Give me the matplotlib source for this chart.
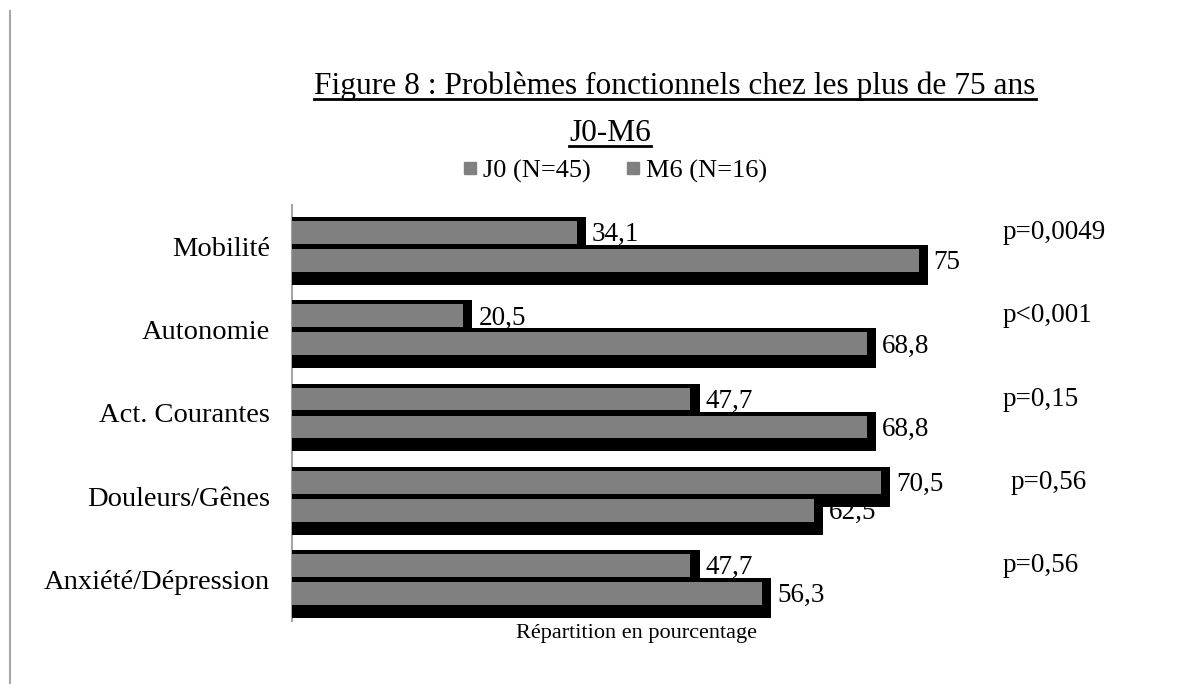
import matplotlib
matplotlib.use("Agg")
import matplotlib.pyplot as plt
from matplotlib.lines import Line2D
import numpy as np

categories = ["Mobilité", "Autonomie", "Act. Courantes", "Douleurs/Gênes", "Anxiété/Dépression"]
j0_values = [34.1, 20.5, 47.7, 70.5, 47.7]
m6_values = [75, 68.8, 68.8, 62.5, 56.3]
p_labels = ["p=0,0049", "p<0,001", "p=0,15", "p=0,56", "p=0,56"]
series_names = ["J0 (N=45)", "M6 (N=16)"]

plt.rcParams['font.family'] = ['Liberation Serif', 'DejaVu Serif']

W, H = 1197, 684
fig = plt.figure(figsize=(W / 100, H / 100), dpi=100)
ax = fig.add_axes([292 / W, 1 - 621 / H, 690 / W, 416 / H])

y = np.arange(len(categories))
off = 0.168      # ecart des deux series autour de la categorie
h = 0.275        # hauteur de la barre grise
sh_h = 0.479     # hauteur de l'ombre noire
sh_dy = 0.054
sh_dx = 1.1

for vals, d in ((j0_values, -off), (m6_values, off)):
    ax.barh(y + d + sh_dy, [v + sh_dx for v in vals], height=sh_h, color='black', zorder=3)
    ax.barh(y + d, vals, height=h, color='#808080', zorder=3)
    for yi, v in zip(y, vals):
        ax.text(v + sh_dx + 0.7, yi + d + sh_dy * 0.5, f"{v:g}".replace('.', ','),
                va='center', ha='left', fontsize=19.5, zorder=2)

for i, (yi, p) in enumerate(zip(y, p_labels)):
    px = 86.0 if i == 3 else 85.1
    ax.text(px, yi - off, p, va='center', ha='left', fontsize=19.5, clip_on=False)

ax.set_xlim(0, 82.6)
ax.set_ylim(len(categories) - 0.5, -0.5)
ax.set_yticks(y)
ax.set_yticklabels(categories, fontsize=20.5)
ax.tick_params(axis='y', length=0, pad=16)
ax.set_xticks([])
for s in ('top', 'right', 'bottom'):
    ax.spines[s].set_visible(False)
ax.spines['left'].set_color('#a6a6a6')
ax.spines['left'].set_linewidth(1.5)
ax.set_xlabel("Répartition en pourcentage", fontsize=16, labelpad=2)

handles = [Line2D([], [], marker='s', linestyle='none', color='#808080', markersize=8)
           for _ in series_names]
fig.legend(handles, series_names, loc='center', bbox_to_anchor=(613 / W, 1 - 171 / H),
           ncol=2, frameon=False, fontsize=19, handletextpad=0.1, columnspacing=1.2,
           handlelength=0.8)


def underlined(xc, yb, s, size):
    t = fig.text(xc, yb, s, ha='center', va='baseline', fontsize=size)
    fig.canvas.draw()
    bb = t.get_window_extent().transformed(fig.transFigure.inverted())
    yl = yb - 5 / H
    fig.add_artist(Line2D([bb.x0, bb.x1], [yl, yl], color='black', lw=2))


underlined(675 / W, 1 - 94 / H, "Figure 8 : Problèmes fonctionnels chez les plus de 75 ans", 22.6)
underlined(610 / W, 1 - 141 / H, "J0-M6", 22.6)

# bord gauche de la page
fig.add_artist(Line2D([10 / W, 10 / W], [0, 1 - 11 / H], color='#a6a6a6', lw=1.5))

fig.savefig("out.png", dpi=100)
